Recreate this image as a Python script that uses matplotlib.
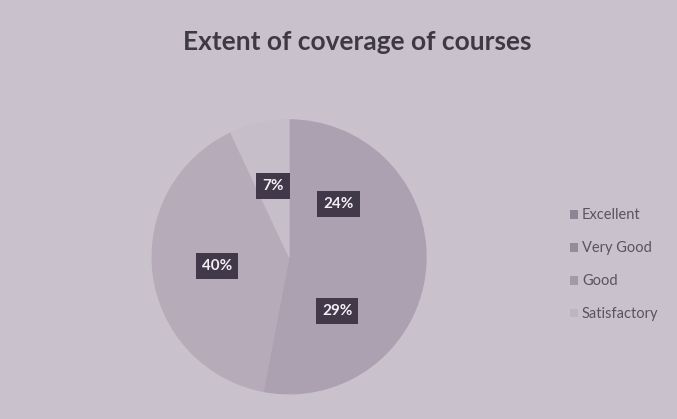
import matplotlib
matplotlib.use("Agg")
import matplotlib.pyplot as plt
from matplotlib.patches import Patch

categories = ["Excellent", "Very Good", "Good", "Satisfactory"]
values = [24, 29, 40, 7]
colors = ["#aba1b1", "#aba1b1", "#b5abb9", "#c6bec9"]
legend_colors = ["#8d8494", "#948b9b", "#a39aa8", "#bdb5c2"]

fig = plt.figure(figsize=(6.77, 4.19), dpi=100)
fig.patch.set_facecolor("#c9c2cd")

fig.text(0.527, 0.90, "Extent of coverage of courses", ha="center", va="center",
         fontsize=19, fontweight="bold", color="#3e3a44", family="Lato")

ax = fig.add_axes([0.2245, 0.060, 0.405, 0.654])
ax.set_facecolor("none")
wedges, texts, autotexts = ax.pie(values, colors=colors, startangle=90, counterclock=False,
                                  autopct="%d%%", pctdistance=0.53, radius=1.0)
for w, c in zip(wedges, colors):
    w.set_edgecolor(c)
    w.set_linewidth(0.8)
for t in autotexts:
    t.set_color("#f2eef4")
    t.set_fontsize(11)
    t.set_fontweight("bold")
    t.set_family("Lato")
    t.set_bbox(dict(boxstyle="square,pad=0.4", facecolor="#41384a", edgecolor="none"))
ax.set_xlim(-1, 1)
ax.set_ylim(-1, 1)
ax.set_aspect("equal")

handles = [Patch(facecolor=c, edgecolor="none") for c in legend_colors]
leg = fig.legend(handles, categories, loc="center left", bbox_to_anchor=(0.822, 0.368),
                 frameon=False, handlelength=0.55, handleheight=0.55,
                 handletextpad=0.3, labelspacing=1.3, prop={"family": "Lato", "size": 10.5})
for t in leg.get_texts():
    t.set_color("#5a5460")

fig.savefig("out.png", dpi=100, facecolor=fig.get_facecolor())
